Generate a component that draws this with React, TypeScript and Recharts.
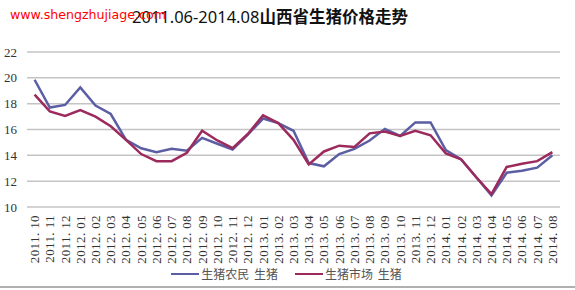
import React from 'react';
import { LineChart, Line, XAxis, YAxis, CartesianGrid, Legend } from 'recharts';

const months = [
  '2011. 10', '2011. 11', '2011. 12',
  '2012. 01', '2012. 02', '2012. 03', '2012. 04', '2012. 05', '2012. 06',
  '2012. 07', '2012. 08', '2012. 09', '2012. 10', '2012. 11', '2012. 12',
  '2013. 01', '2013. 02', '2013. 03', '2013. 04', '2013. 05', '2013. 06',
  '2013. 07', '2013. 08', '2013. 09', '2013. 10', '2013. 11', '2013. 12',
  '2014. 01', '2014. 02', '2014. 03', '2014. 04', '2014. 05', '2014. 06',
  '2014. 07', '2014. 08',
];

// 生猪农民 生猪
const farmerPrice = [
  19.85, 17.7, 17.9, 19.25, 17.85, 17.2, 15.2, 14.55, 14.25, 14.5, 14.35, 15.35,
  14.9, 14.45, 15.6, 16.85, 16.5, 15.9, 13.4, 13.15, 14.1, 14.5, 15.15, 16.05,
  15.5, 16.55, 16.55, 14.4, 13.7, 12.3, 10.9, 12.65, 12.8, 13.05, 14.0,
];

// 生猪市场 生猪
const marketPrice = [
  18.7, 17.4, 17.05, 17.5, 17.0, 16.25, 15.2, 14.1, 13.55, 13.55, 14.2, 15.9,
  15.15, 14.55, 15.65, 17.1, 16.5, 15.2, 13.3, 14.3, 14.75, 14.65, 15.7, 15.85,
  15.5, 15.9, 15.55, 14.15, 13.7, 12.3, 11.0, 13.1, 13.35, 13.55, 14.25,
];

const yTicks = [10, 12, 14, 16, 18, 20, 22];

const BLUE = '#5b5ea3';
const RED = '#9c2a5d';
const SERIF = '"Liberation Serif", "DejaVu Serif", serif';

const data = months.map((m, i) => ({
  month: m,
  farmer: farmerPrice[i],
  market: marketPrice[i],
}));

const MonthTick = (props: any) => {
  const { x, y, payload } = props;
  return (
    <text
      x={x}
      y={y}
      transform={`rotate(-90, ${x}, ${y})`}
      textAnchor="end"
      dominantBaseline="central"
      style={{ fontFamily: SERIF, fontSize: 13, letterSpacing: 0.4 }}
      fill="#333"
    >
      {payload.value}
    </text>
  );
};

const ValueTick = (props: any) => {
  const { x, y, payload } = props;
  return (
    <text x={x - 2} y={y} textAnchor="end" dominantBaseline="central" style={{ fontFamily: SERIF, fontSize: 13 }} fill="#333">
      {payload.value}
    </text>
  );
};

const legendItems = [
  { label: '生猪农民 生猪', color: BLUE },
  { label: '生猪市场 生猪', color: RED },
];

const renderLegend = () => (
  <div style={{ display: 'flex', justifyContent: 'center', paddingRight: 2, fontFamily: '"Noto Sans CJK SC"', fontSize: 12, color: '#555' }}>
    {legendItems.map((item, i) => (
      <div key={item.label} style={{ display: 'flex', alignItems: 'center', marginLeft: i ? 17 : 0 }}>
        <div style={{ width: 28, height: 2, background: item.color, marginRight: 2 }} />
        <span style={{ wordSpacing: 2 }}>{item.label}</span>
      </div>
    ))}
  </div>
);

export default function App() {
  return (
    <div style={{ position: 'absolute', left: 0, top: 0, width: 575, height: 290, background: '#fff', overflow: 'hidden' }}>
      <LineChart width={575} height={290} data={data} margin={{ top: 52, right: 15, left: 0, bottom: 8 }}>
        <CartesianGrid vertical={false} stroke="#c4c4c4" strokeWidth={1.5} />
        <XAxis
          dataKey="month"
          interval={0}
          tick={<MonthTick />}
          tickLine={false}
          axisLine={false}
          height={58}
          padding={{ left: 7.6, right: 7.6 }}
        />
        <YAxis
          domain={[10, 22]}
          ticks={yTicks}
          width={27}
          tickLine={false}
          axisLine={false}
          tick={<ValueTick />}
        />
        <Legend
          content={renderLegend}
          wrapperStyle={{ left: 0, width: 575, bottom: 8 }}
        />
        <Line type="linear" dataKey="farmer" stroke={BLUE} strokeWidth={2.5} dot={false} isAnimationActive={false} />
        <Line type="linear" dataKey="market" stroke={RED} strokeWidth={2.5} dot={false} isAnimationActive={false} />
      </LineChart>
      <div style={{ position: 'absolute', left: 132, top: 4, color: '#111', whiteSpace: 'nowrap' }}>
        <span style={{ fontFamily: '"Noto Sans"', fontSize: 16.5 }}>2011.06-2014.08</span>
        <span style={{ fontFamily: '"Noto Sans CJK SC"', fontSize: 16.5, fontWeight: 700 }}>山西省生猪价格走势</span>
      </div>
      <div style={{ position: 'absolute', left: 10, top: 7, fontFamily: '"DejaVu Sans"', fontSize: 12.6, color: '#ff0000' }}>
        www.shengzhujiage.com
      </div>
      <div style={{ position: 'absolute', left: 0, top: 286, width: 575, height: 2, background: '#b0b0b0' }} />
    </div>
  );
}
